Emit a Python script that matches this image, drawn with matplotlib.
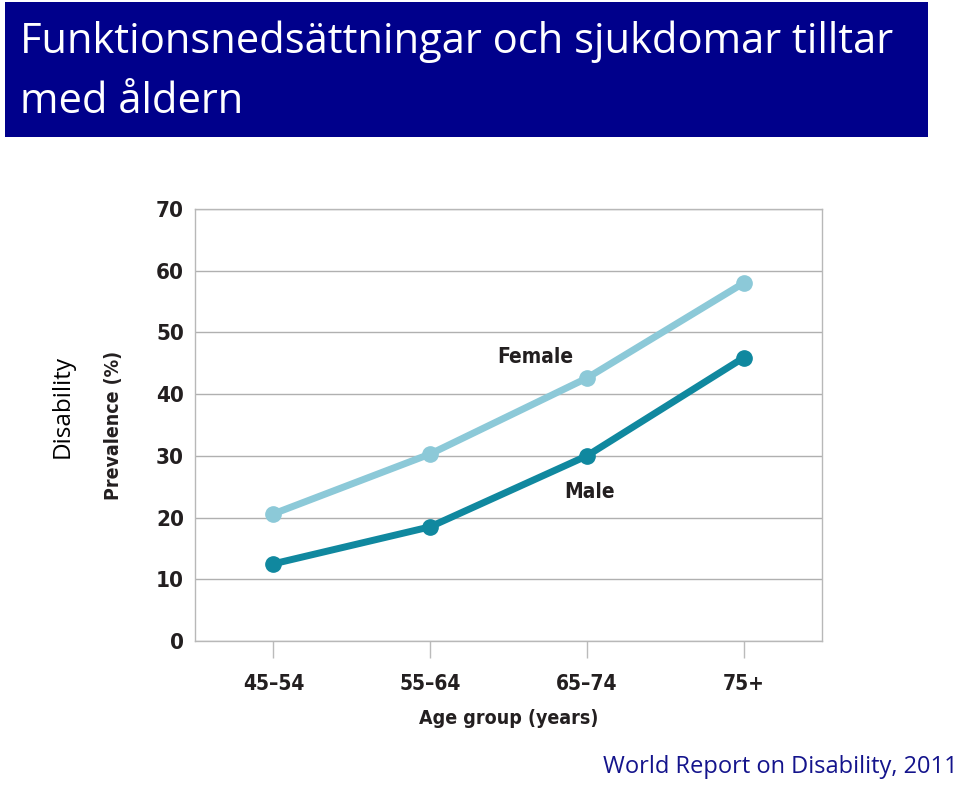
import matplotlib
matplotlib.use("Agg")
import matplotlib.pyplot as plt
from matplotlib.patches import Rectangle

# data
age_groups = ["45–54", "55–64", "65–74", "75+"]
female = [20.6, 30.3, 42.6, 58.0]
male = [12.5, 18.5, 30.0, 45.9]
yticks = [0, 10, 20, 30, 40, 50, 60, 70]

narrow = ["Liberation Sans Narrow", "DejaVu Sans"]
plain = ["Open Sans", "DejaVu Sans"]
nkw = dict(family=narrow, fontweight="bold", fontstretch="condensed", color="#231f20")

fig = plt.figure(figsize=(9.6, 7.85), dpi=100)

# title banner
fig.patches.append(Rectangle((5/960, 1-137/785), 923/960, 135/785,
                             transform=fig.transFigure, facecolor="#00008b",
                             edgecolor="none", zorder=0))
fig.text(20/960, 1-42/785, "Funktionsnedsättningar och sjukdomar tilltar",
         color="white", fontsize=30, family=plain, va="center", ha="left")
fig.text(20/960, 1-102/785, "med åldern",
         color="white", fontsize=30, family=plain, va="center", ha="left")

ax = fig.add_axes([195/960, 1-641/785, 627/960, 432/785])
x = list(range(len(age_groups)))
ax.plot(x, female, color="#8cc9d8", lw=5, marker="o", ms=11, solid_capstyle="round", zorder=3)
ax.plot(x, male, color="#10889f", lw=5, marker="o", ms=11, solid_capstyle="round", zorder=3)

ax.set_xlim(-0.5, 3.5)
ax.set_ylim(0, 70)
ax.set_yticks(yticks)
ax.set_yticklabels([str(v) for v in yticks], fontsize=16, **nkw)
ax.set_xticks(x)
ax.set_xticklabels(age_groups, fontsize=15, **nkw)
ax.tick_params(axis="y", length=0, pad=8)
ax.tick_params(axis="x", length=12, color="#bbbbbb", width=1, pad=12)
ax.grid(axis="y", color="#b0b0b0", lw=1)
for s in ax.spines.values():
    s.set_color("#b8b8b8")
    s.set_linewidth(1)

ax.text(1.67, 46.0, "Female", fontsize=15, ha="center", va="center", **nkw)
ax.text(2.02, 24.1, "Male", fontsize=15, ha="center", va="center", **nkw)

fig.text(509/960, 1-718/785, "Age group (years)", fontsize=14,
         ha="center", va="center", **nkw)
fig.text(113/960, 1-425/785, "Prevalence (%)", fontsize=14,
         ha="center", va="center", rotation=90, **nkw)
fig.text(63/960, 1-406/785, "Disability", family=plain, fontsize=17.5,
         color="black", ha="center", va="center", rotation=90)

fig.text(958/960, 1-767/785, "World Report on Disability, 2011", family=plain,
         fontsize=17, color="#14148c", ha="right", va="center")

fig.savefig("out.png", dpi=100)
